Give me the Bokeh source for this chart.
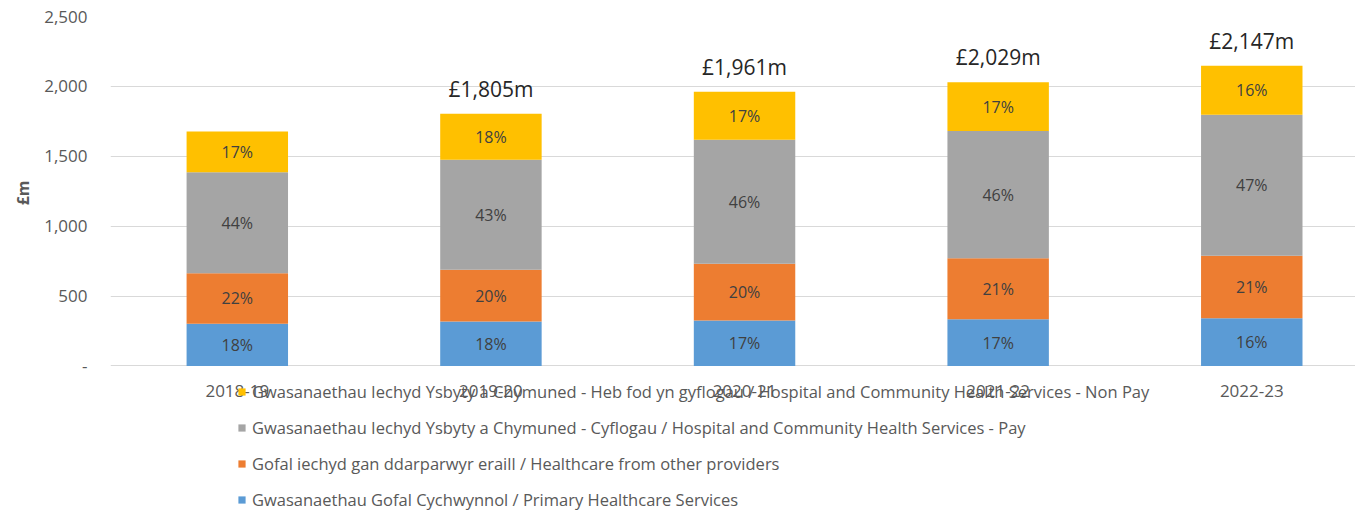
from bokeh.plotting import figure
from bokeh.models import Range1d, FixedTicker, NumeralTickFormatter, Legend, LegendItem, ColumnDataSource, LabelSet, Title
from bokeh.core.properties import value
from bokeh.embed import file_html
from bokeh.resources import INLINE

years = ["2018-19", "2019-20", "2020-21", "2021-22", "2022-23"]
primary = [302, 318, 325, 335, 342]
other_providers = [362, 370, 406, 436, 446]
hchs_pay = [722, 788, 888, 910, 1010]
hchs_nonpay = [291, 329, 342, 348, 349]

pct_primary = ["18%", "18%", "17%", "17%", "16%"]
pct_other = ["22%", "20%", "20%", "21%", "21%"]
pct_pay = ["44%", "43%", "46%", "46%", "47%"]
pct_nonpay = ["17%", "18%", "17%", "17%", "16%"]
total_labels = ["", "£1,805m", "£1,961m", "£2,029m", "£2,147m"]

series_names = [
    "Gwasanaethau Gofal Cychwynnol / Primary Healthcare Services",
    "Gofal iechyd gan ddarparwyr eraill / Healthcare from other providers",
    "Gwasanaethau Iechyd Ysbyty a Chymuned - Cyflogau / Hospital and Community Health Services - Pay",
    "Gwasanaethau Iechyd Ysbyty a Chymuned - Heb fod yn gyflogau / Hospital and Community Health Services - Non Pay",
]
colors = ["#5B9BD5", "#ED7D31", "#A5A5A5", "#FFC000"]

FONT = "Open Sans"
xs = list(range(len(years)))
keys = ["primary", "other", "pay", "nonpay"]
src = ColumnDataSource(dict(x=xs, primary=primary, other=other_providers, pay=hchs_pay, nonpay=hchs_nonpay))

p = figure(width=1355, height=511, output_backend="svg", toolbar_location=None,
           x_range=Range1d(-0.5, 4.409), y_range=Range1d(-1041, 2500),
           min_border_left=110, min_border_right=0, min_border_top=16, min_border_bottom=0)
p.outline_line_color = None
p.background_fill_color = "white"

renderers = p.vbar_stack(keys, x="x", width=0.4, color=colors, line_color=None, source=src)

# percentage labels
pcts = [pct_primary, pct_other, pct_pay, pct_nonpay]
vals = [primary, other_providers, hchs_pay, hchs_nonpay]
lx, ly, lt = [], [], []
for i in xs:
    base = 0
    for k in range(4):
        v = vals[k][i]
        lx.append(i)
        ly.append(base + v / 2)
        lt.append(pcts[k][i])
        base += v
p.text(x=lx, y=ly, text=lt, text_align="center", text_baseline="middle",
       text_font=value(FONT), text_font_size="16px", text_color="#404040")

totals = [primary[i] + other_providers[i] + hchs_pay[i] + hchs_nonpay[i] for i in xs]
tsrc = ColumnDataSource(dict(x=xs, y=totals, t=total_labels))
p.add_layout(LabelSet(x="x", y="y", text="t", source=tsrc, y_offset=25,
                      text_align="center", text_baseline="middle",
                      text_font=value(FONT), text_font_size="21px", text_color="#262626"))

# category labels under the baseline
csrc = ColumnDataSource(dict(x=xs, y=[0] * len(xs), t=years))
p.add_layout(LabelSet(x="x", y="y", text="t", source=csrc, y_offset=-25,
                      text_align="center", text_baseline="middle",
                      text_font=value(FONT), text_font_size="17px", text_color="#595959"))

# axes
p.xaxis.visible = False
p.xgrid.grid_line_color = None
p.ygrid.grid_line_color = "#D9D9D9"
p.ygrid.grid_line_width = 1
p.yaxis.ticker = FixedTicker(ticks=[0, 500, 1000, 1500, 2000, 2500])
p.yaxis.formatter = NumeralTickFormatter(format="0,0")
p.yaxis.major_label_overrides = {0: "-"}
p.yaxis.axis_line_color = None
p.yaxis.major_tick_line_color = None
p.yaxis.minor_tick_line_color = None
p.yaxis.major_label_standoff = 17
p.yaxis.major_label_text_font = FONT
p.yaxis.major_label_text_font_size = "17px"
p.yaxis.major_label_text_color = "#595959"

ytitle = Title(text="£m", align="right", offset=164, standoff=16,
               text_font=FONT, text_font_size="16px", text_font_style="bold",
               text_color="#595959")
p.add_layout(ytitle, "left")

items = [LegendItem(label=series_names[k], renderers=[renderers[k]]) for k in [3, 2, 1, 0]]
legend = Legend(items=items, location=(127, 0), orientation="vertical",
                glyph_width=9, glyph_height=9, label_height=16, spacing=13,
                padding=0, margin=0, border_line_color=None, background_fill_alpha=0,
                label_text_font=FONT, label_text_font_size="16.5px", label_text_color="#595959",
                label_standoff=6)
p.add_layout(legend, "center")

open("out.html", "w").write(file_html(p, INLINE))
